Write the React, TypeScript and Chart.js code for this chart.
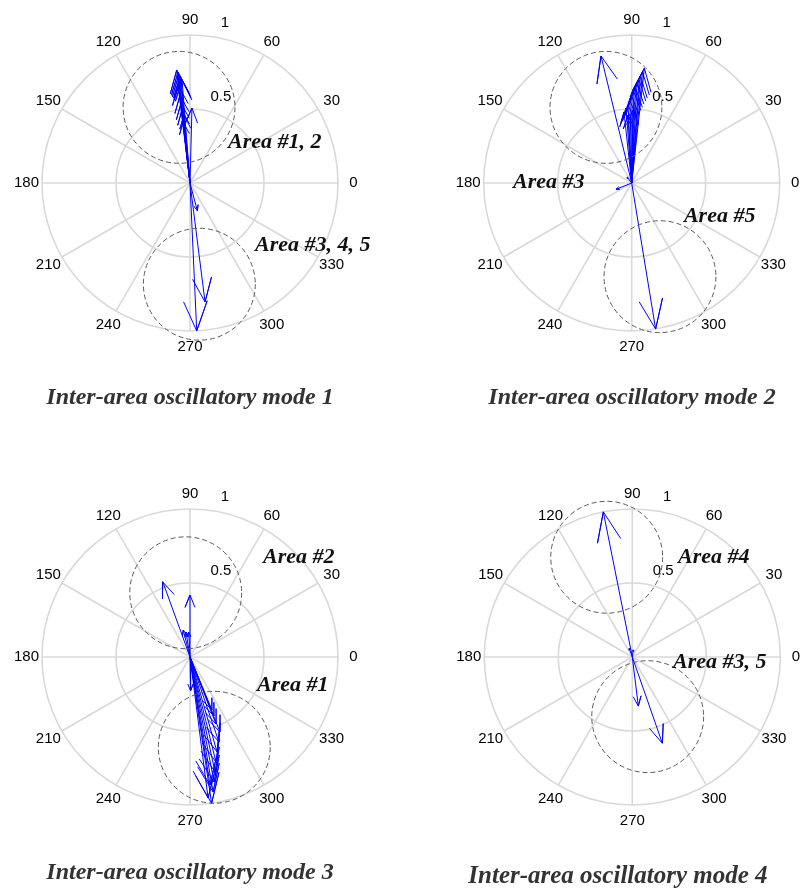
import React, { useEffect, useRef } from "react";
import { Chart, registerables } from "chart.js";

Chart.register(...registerables);

// ---------- Data ----------
const ANGLE_TICKS = [0, 30, 60, 90, 120, 150, 180, 210, 240, 270, 300, 330];
const RING_TICKS = [0.5, 1];
const RING_LABELS = ["0.5", "1"];

// Mode 1 phasors (magnitude, angle in degrees)
const MODE1_MAG = [0.769, 0.754, 0.74, 0.726, 0.712, 0.698, 0.667, 0.598, 0.544, 0.496, 0.507, 0.461, 0.415, 1.0, 0.81, 0.194];
const MODE1_ANG = [96.7, 96.2, 95.8, 95.3, 94.9, 94.4, 97.0, 96.5, 96.4, 96.3, 88.5, 95.0, 96.5, 272.6, 277.2, 284.8];

// Mode 2
const MODE2_MAG = [0.883, 0.78, 0.754, 0.725, 0.698, 0.67, 0.642, 0.615, 0.581, 0.554, 0.528, 0.508, 0.483, 0.46, 0.493, 0.114, 0.05, 1.0];
const MODE2_ANG = [103.6, 83.7, 84.4, 85.3, 85.9, 86.9, 87.7, 88.6, 89.8, 91.2, 92.7, 94.3, 96.2, 93.1, 89.0, 201.9, 128.0, 279.3];

// Mode 3
const MODE3_MAG = [0.541, 0.419, 0.188, 0.171, 0.169, 0.228, 0.999, 0.96, 0.925, 0.875, 0.86, 0.795, 0.731, 0.667, 0.607, 0.546, 0.486, 0.43, 0.388];
const MODE3_ANG = [109.9, 90.0, 104.0, 99.0, 93.0, 271.0, 278.4, 277.3, 279.7, 278.9, 280.9, 282.3, 283.9, 285.9, 288.8, 291.8, 291.2, 292.1, 292.5];

// Mode 4
const MODE4_MAG = [1.0, 0.617, 0.334, 0.062, 0.048];
const MODE4_ANG = [101.3, 289.2, 277.0, 109.0, 82.0];

const TITLES = [
  "Inter-area oscillatory mode 1",
  "Inter-area oscillatory mode 2",
  "Inter-area oscillatory mode 3",
  "Inter-area oscillatory mode 4",
];

// Area annotation texts
const AREA_TEXT_1 = ["Area #1, 2", "Area #3, 4, 5"];
const AREA_TEXT_2 = ["Area #3", "Area #5"];
const AREA_TEXT_3 = ["Area #2", "Area #1"];
const AREA_TEXT_4 = ["Area #4", "Area #3, 5"];

// ---------- Layout (positions in polar-plot units, 1 = outer ring) ----------
const PX_PER_UNIT = 148;
const CANVAS_W = 400;
const CANVAS_H = 415;

const AREA_POS_1 = [[0.257, 0.236], [0.439, -0.459]];
const AREA_POS_2 = [[-0.802, -0.034], [0.353, -0.264]];
const AREA_POS_3 = [[0.493, 0.635], [0.453, -0.23]];
const AREA_POS_4 = [[0.309, 0.635], [0.275, -0.074]];

const CIRCLES_1 = [[-0.074, 0.511], [0.063, -0.684]];
const CIRCLES_2 = [[-0.174, 0.511], [0.191, -0.633]];
const CIRCLES_3 = [[-0.029, 0.434], [0.164, -0.61]];
const CIRCLES_4 = [[-0.173, 0.674], [0.104, -0.403]];
const CIRCLE_R = 0.378;

const RING_LABEL_POS = [[0.209, 0.581], [0.236, 1.081]];

type PanelCfg = {
  left: number;
  top: number;
  cx: number;
  cy: number;
  mags: number[];
  angs: number[];
  title: string;
  titlePos: number[];
  titleSize: number;
  areaText: string[];
  areaPos: number[][];
  circles: number[][];
};

const PANELS: PanelCfg[] = [
  { left: 0, top: 0, cx: 190, cy: 183, mags: MODE1_MAG, angs: MODE1_ANG, title: TITLES[0], titlePos: [0, -1.453], titleSize: 24, areaText: AREA_TEXT_1, areaPos: AREA_POS_1, circles: CIRCLES_1 },
  { left: 400, top: 0, cx: 231.7, cy: 183, mags: MODE2_MAG, angs: MODE2_ANG, title: TITLES[1], titlePos: [0.002, -1.453], titleSize: 24, areaText: AREA_TEXT_2, areaPos: AREA_POS_2, circles: CIRCLES_2 },
  { left: 0, top: 474, cx: 190, cy: 183, mags: MODE3_MAG, angs: MODE3_ANG, title: TITLES[2], titlePos: [0, -1.459], titleSize: 24, areaText: AREA_TEXT_3, areaPos: AREA_POS_3, circles: CIRCLES_3 },
  { left: 400, top: 474, cx: 232.3, cy: 183, mags: MODE4_MAG, angs: MODE4_ANG, title: TITLES[3], titlePos: [-0.097, -1.486], titleSize: 25, areaText: AREA_TEXT_4, areaPos: AREA_POS_4, circles: CIRCLES_4 },
];

const polarDecor = {
  id: "polarDecor",
  beforeDatasetsDraw(chart: any) {
    const ctx = chart.ctx;
    const xs = chart.scales.x;
    const ys = chart.scales.y;
    const cx = xs.getPixelForValue(0);
    const cy = ys.getPixelForValue(0);
    const R = xs.getPixelForValue(1) - cx;
    ctx.save();
    ctx.strokeStyle = "#d9d9d9";
    ctx.lineWidth = 1.6;
    RING_TICKS.forEach((r) => {
      ctx.beginPath();
      ctx.arc(cx, cy, r * R, 0, Math.PI * 2);
      ctx.stroke();
    });
    ANGLE_TICKS.forEach((a) => {
      const t = (a * Math.PI) / 180;
      ctx.beginPath();
      ctx.moveTo(cx, cy);
      ctx.lineTo(cx + R * Math.cos(t), cy - R * Math.sin(t));
      ctx.stroke();
    });
    ctx.restore();
  },
  afterDatasetsDraw(chart: any, _args: any, opts: any) {
    const ctx = chart.ctx;
    const xs = chart.scales.x;
    const ys = chart.scales.y;
    const px = (v: number) => xs.getPixelForValue(v);
    const py = (v: number) => ys.getPixelForValue(v);
    const cx = px(0);
    const cy = py(0);
    const R = px(1) - cx;
    ctx.save();
    // dashed circles
    ctx.strokeStyle = "#5a5a5a";
    ctx.lineWidth = 1;
    ctx.setLineDash([5, 3]);
    (opts.circles || []).forEach((c: number[]) => {
      ctx.beginPath();
      ctx.arc(px(c[0]), py(c[1]), CIRCLE_R * R, 0, Math.PI * 2);
      ctx.stroke();
    });
    ctx.setLineDash([]);
    // angle labels
    ctx.fillStyle = "#000";
    ctx.font = '15px "Liberation Sans", Arial, sans-serif';
    ctx.textAlign = "center";
    ctx.textBaseline = "middle";
    ANGLE_TICKS.forEach((a) => {
      const t = (a * Math.PI) / 180;
      ctx.fillText(String(a), cx + 1.105 * R * Math.cos(t), cy - 1.105 * R * Math.sin(t));
    });
    RING_LABELS.forEach((lab, i) => {
      ctx.fillText(lab, px(RING_LABEL_POS[i][0]), py(RING_LABEL_POS[i][1]));
    });
    // area labels
    ctx.font = 'bold italic 22px "Liberation Serif", "Times New Roman", serif';
    ctx.textAlign = "left";
    ctx.textBaseline = "alphabetic";
    ctx.fillStyle = "#111";
    (opts.areaText || []).forEach((s: string, i: number) => {
      ctx.fillText(s, px(opts.areaPos[i][0]), py(opts.areaPos[i][1]));
    });
    // title
    ctx.font = `bold italic ${opts.titleSize}px "Liberation Serif", "Times New Roman", serif`;
    ctx.textAlign = "center";
    ctx.textBaseline = "middle";
    ctx.fillStyle = "#333";
    ctx.fillText(opts.title, px(opts.titlePos[0]), py(opts.titlePos[1]));
    ctx.restore();
  },
};

function arrowPoints(mag: number, angDeg: number) {
  const t = (angDeg * Math.PI) / 180;
  const c = Math.cos(t);
  const s = Math.sin(t);
  const tip = { x: mag * c, y: mag * s };
  const bx = 0.8 * mag * c;
  const by = 0.8 * mag * s;
  const ox = -s * 0.08 * mag;
  const oy = c * 0.08 * mag;
  return [
    { x: 0, y: 0 },
    tip,
    { x: bx + ox, y: by + oy },
    tip,
    { x: bx - ox, y: by - oy },
  ];
}

function CompassPanel({ cfg }: { cfg: PanelCfg }) {
  const ref = useRef<HTMLCanvasElement | null>(null);
  useEffect(() => {
    if (!ref.current) return;
    const datasets = cfg.mags.map((m, i) => ({
      data: arrowPoints(m, cfg.angs[i]),
      showLine: true,
      borderColor: "#0000ff",
      borderWidth: 1,
      pointRadius: 0,
      fill: false,
      clip: false as any,
      tension: 0,
    }));
    const xmin = -cfg.cx / PX_PER_UNIT;
    const xmax = (CANVAS_W - cfg.cx) / PX_PER_UNIT;
    const ymax = cfg.cy / PX_PER_UNIT;
    const ymin = (cfg.cy - CANVAS_H) / PX_PER_UNIT;
    const chart = new Chart(ref.current, {
      type: "scatter",
      data: { datasets: datasets as any },
      options: {
        animation: false,
        responsive: false,
        devicePixelRatio: 1,
        events: [],
        layout: { padding: 0 },
        scales: {
          x: { type: "linear", min: xmin, max: xmax, display: false },
          y: { type: "linear", min: ymin, max: ymax, display: false },
        },
        plugins: {
          legend: { display: false },
          tooltip: { enabled: false },
          polarDecor: {
            circles: cfg.circles,
            areaText: cfg.areaText,
            areaPos: cfg.areaPos,
            title: cfg.title,
            titlePos: cfg.titlePos,
            titleSize: cfg.titleSize,
          },
        } as any,
      },
      plugins: [polarDecor],
    });
    return () => chart.destroy();
  }, [cfg]);
  return (
    <canvas
      ref={ref}
      width={CANVAS_W}
      height={CANVAS_H}
      style={{ position: "absolute", left: cfg.left, top: cfg.top, width: CANVAS_W, height: CANVAS_H }}
    />
  );
}

export default function App() {
  return (
    <div style={{ position: "fixed", left: 0, top: 0, width: 800, height: 889, background: "#fff", overflow: "hidden" }}>
      {PANELS.map((p, i) => (
        <CompassPanel key={i} cfg={p} />
      ))}
    </div>
  );
}
